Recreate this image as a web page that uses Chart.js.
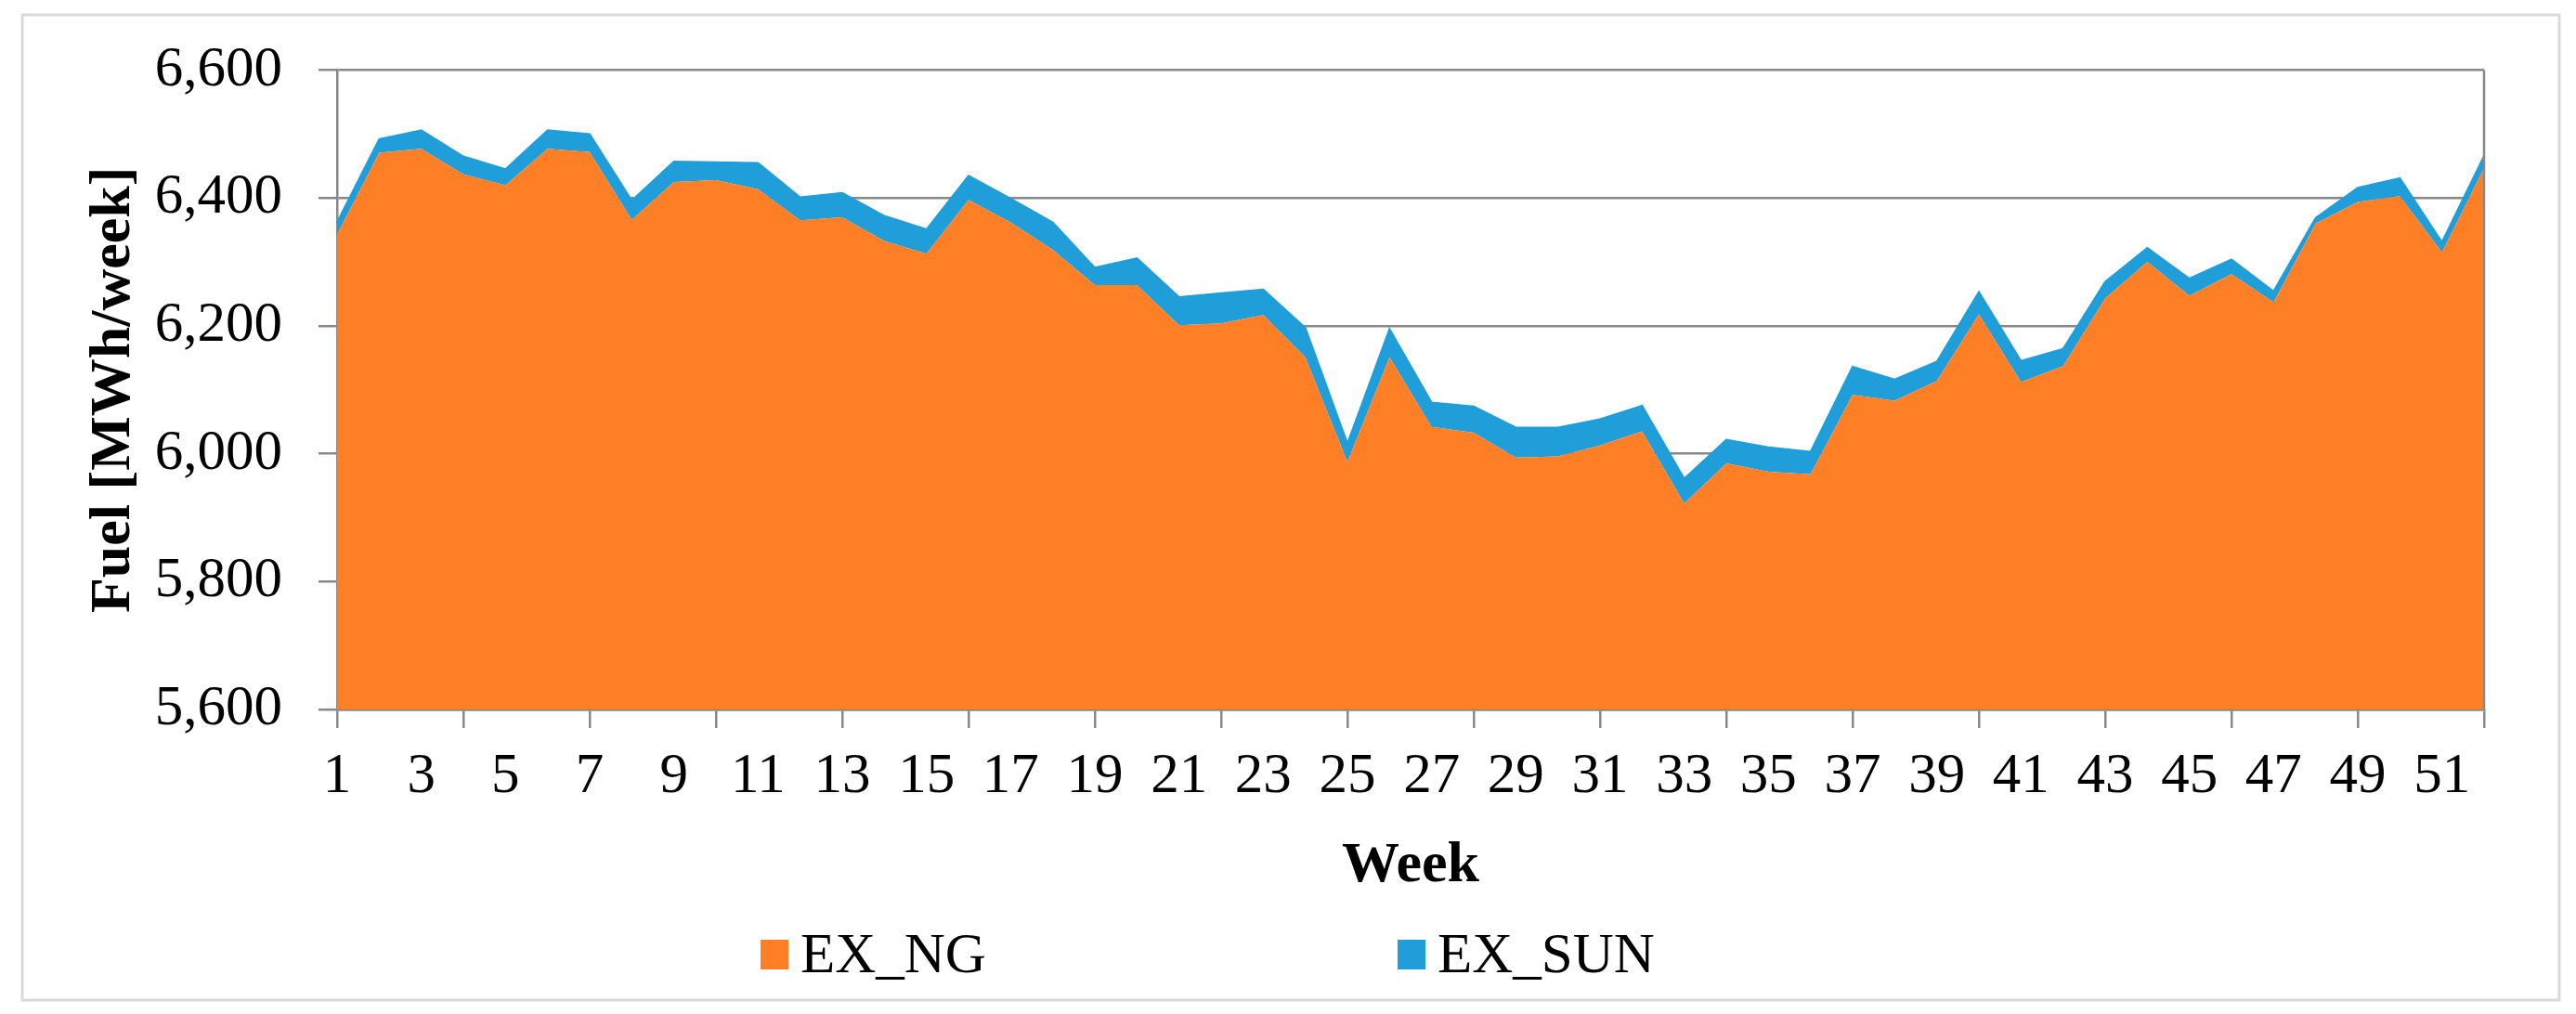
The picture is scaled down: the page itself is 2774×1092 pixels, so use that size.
<!DOCTYPE html>
<html><head><meta charset="utf-8">
<script src="https://cdn.jsdelivr.net/npm/chart.js@4.4.1/dist/chart.umd.min.js"></script>
<style>html,body{margin:0;padding:0;background:#fff;}#wrap{width:2774px;height:1092px;}</style>
</head><body><div id="wrap"><canvas id="c" width="2774" height="1092"></canvas></div>
<script>
const weeks = ['1','2','3','4','5','6','7','8','9','10','11','12','13','14','15','16','17','18','19','20','21','22','23','24','25','26','27','28','29','30','31','32','33','34','35','36','37','38','39','40','41','42','43','44','45','46','47','48','49','50','51','52'];
const seriesNames = ['EX_NG', 'EX_SUN'];
const exNG = [6343,6471,6477,6437,6420,6477,6472,6366,6425,6428,6414,6365,6370,6333,6313,6397,6362,6319,6264,6264,6201,6204,6217,6151,5987,6151,6042,6033,5994,5996,6013,6035,5922,5985,5972,5968,6092,6083,6114,6218,6112,6137,6243,6300,6247,6281,6237,6360,6394,6403,6315,6447];
const exSUN = [19,21,29,28,25,29,28,30,32,28,41,36,38,39,38,38,37,43,27,42,44,47,40,46,29,44,38,41,47,45,41,40,39,37,38,35,44,33,30,35,33,27,26,22,27,23,17,9,22,28,16,19];
const yMin = 5600, yMax = 6600, yStep = 200;
const xTitle = 'Week';
const yTitle = 'Fuel [MWh/week]';

const FONT = "'Liberation Serif', 'Times New Roman', serif";
const ORANGE = '#FF7F27';
const BLUE = '#1F9ED9';
const GRID = '#888888';

const framePlugin = {
  id: 'frame',
  beforeDraw(chart) {
    const ctx = chart.ctx;
    ctx.save();
    ctx.fillStyle = '#fff';
    ctx.fillRect(0, 0, chart.width, chart.height);
    ctx.restore();
  },
  afterDraw(chart) {
    const ctx = chart.ctx, a = chart.chartArea;
    ctx.save();
    // right border of plot
    ctx.strokeStyle = GRID; ctx.lineWidth = 2.5;
    ctx.beginPath(); ctx.moveTo(a.right, a.top); ctx.lineTo(a.right, a.bottom); ctx.stroke();
    // outer chart border
    ctx.strokeStyle = '#D9D9D9'; ctx.lineWidth = 3;
    ctx.strokeRect(24, 16, 2732, 1061);
    // legend
    const items = [{x: 819}, {x: 1505}];
    ctx.font = "61px " + FONT;
    ctx.textBaseline = 'alphabetic';
    ctx.fillStyle = '#000';
    chart.data.datasets.forEach((ds, i) => {
      const it = items[i];
      ctx.fillStyle = ds.backgroundColor;
      ctx.fillRect(it.x, 1012, 30, 32);
      ctx.fillStyle = '#000';
      ctx.fillText(ds.label, it.x + 43, 1047);
    });
    ctx.restore();
  }
};

new Chart(document.getElementById('c'), {
  type: 'line',
  data: {
    labels: weeks,
    datasets: [
      { label: seriesNames[0], data: exNG, backgroundColor: ORANGE, borderColor: ORANGE, borderWidth: 0, fill: 'origin', pointRadius: 0, tension: 0 },
      { label: seriesNames[1], data: exSUN, backgroundColor: BLUE, borderColor: BLUE, borderWidth: 2, fill: '-1', pointRadius: 0, tension: 0 }
    ]
  },
  options: {
    responsive: false,
    animation: false,
    devicePixelRatio: 1,
    layout: { padding: { left: 0, right: 99, top: 74, bottom: 98 } },
    plugins: { legend: { display: false }, tooltip: { enabled: false } },
    scales: {
      x: {
        offset: false,
        afterFit: s => { s.height = 230; },
        grid: {
          offset: false,
          drawOnChartArea: false,
          drawTicks: true,
          tickLength: 20,
          lineWidth: 2.5,
          color: c => (c.index % 3 === 0 ? GRID : 'rgba(0,0,0,0)')
        },
        border: { display: true, color: GRID, width: 2.5 },
        ticks: {
          autoSkip: false, maxRotation: 0, minRotation: 0, padding: 16,
          color: '#000', font: { family: FONT, size: 61 },
          callback: function (v, i) { return i % 2 === 0 ? this.getLabelForValue(v) : ''; }
        },
        title: { display: true, text: xTitle, color: '#000', font: { family: FONT, size: 62, weight: 'bold' }, padding: { top: 0, bottom: 24 } }
      },
      y: {
        stacked: true,
        min: yMin, max: yMax,
        afterFit: s => { s.width = 363; },
        grid: { color: GRID, lineWidth: 2.5, drawTicks: true, tickLength: 20 },
        border: { display: true, color: GRID, width: 2.5 },
        ticks: {
          stepSize: yStep, padding: 39, color: '#000',
          font: { family: FONT, size: 61 },
          callback: v => v.toLocaleString('en-US')
        },
        title: { display: true, text: yTitle, color: '#000', font: { family: FONT, size: 62, weight: 'bold' }, padding: { top: 86, bottom: 0 } }
      }
    }
  },
  plugins: [framePlugin]
});
</script></body></html>
